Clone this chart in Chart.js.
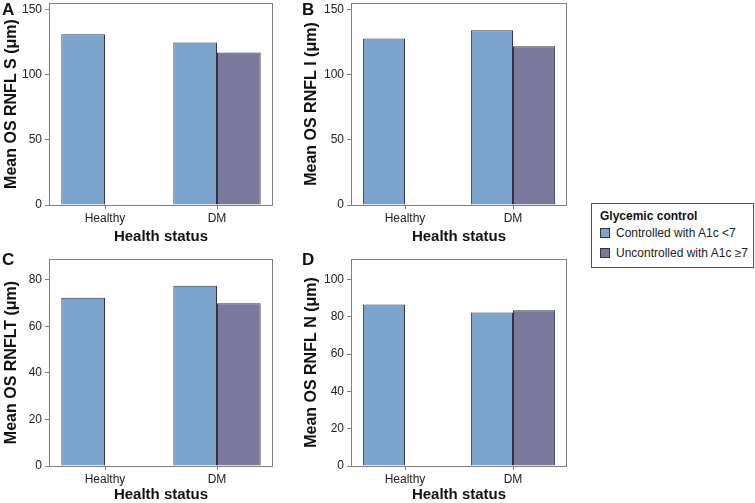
<!DOCTYPE html>
<html>
<head>
<meta charset="utf-8">
<script src="https://cdn.jsdelivr.net/npm/chart.js@4.4.1/dist/chart.umd.min.js"></script>
<style>
  html, body { margin: 0; padding: 0; background: #fff; overflow: hidden; width: 755px; height: 503px; }
  body { position: relative; font-family: "Liberation Sans", Arial, sans-serif; }
  canvas { position: absolute; }
  .letter { position: absolute; font-weight: bold; font-size: 17px; line-height: 17px; color: #111; }
  #legend { position: absolute; left: 591px; top: 203px; width: 161px; height: 63px; border: 1px solid #555; font-size: 12px; color: #222; }
  #legend .ttl { position: absolute; left: 8px; top: 5px; font-weight: bold; color: #111; }
  #legend .item { position: absolute; left: 8px; white-space: nowrap; }
  #legend .sw { display: inline-block; width: 8px; height: 8px; border: 1px solid #333; margin-right: 6px; vertical-align: -1px; }
</style>
</head>
<body>
<canvas id="cA" width="280" height="250" style="left:0;top:0"></canvas>
<canvas id="cB" width="275" height="250" style="left:300px;top:0"></canvas>
<canvas id="cC" width="280" height="256" style="left:0;top:250px"></canvas>
<canvas id="cD" width="275" height="256" style="left:300px;top:250px"></canvas>
<div class="letter" style="left:2px;top:1px">A</div>
<div class="letter" style="left:302px;top:1px">B</div>
<div class="letter" style="left:2px;top:251px">C</div>
<div class="letter" style="left:302px;top:251px">D</div>
<div id="legend"></div>
<script>
const categories = ["Healthy", "DM"];
const seriesNames = ["Controlled with A1c <7", "Uncontrolled with A1c \u22657"];
const seriesColors = ["#7ba3cc", "#7a799d"];

// values per panel: [controlled, uncontrolled] for Healthy, DM
const rnflS_controlled = [131, 124.6];
const rnflS_uncontrolled = [null, 117];
const rnflI_controlled = [127.7, 134];
const rnflI_uncontrolled = [null, 121.8];
const rnflT_controlled = [72.3, 77.5];
const rnflT_uncontrolled = [null, 70];
const rnflN_controlled = [86.6, 82.3];
const rnflN_uncontrolled = [null, 83.5];

const ticksS = [0, 50, 100, 150];
const ticksI = [0, 50, 100, 150];
const ticksT = [0, 20, 40, 60, 80];
const ticksN = [0, 20, 40, 60, 80, 100];

const FONT = "'Liberation Sans', Arial, sans-serif";

const framePlugin = {
  id: "frame",
  afterDraw(chart) {
    const a = chart.chartArea;
    const ctx = chart.ctx;
    ctx.save();
    ctx.strokeStyle = "#808080";
    ctx.lineWidth = 1;
    ctx.strokeRect(Math.round(a.left) + 0.5, Math.round(a.top) + 0.5,
      Math.round(a.right - a.left) - 1, Math.round(a.bottom - a.top));
    ctx.restore();
  }
};

function makePanel(id, yTitle, controlled, uncontrolled, tickVals, yMax, box) {
  const ctx = document.getElementById(id).getContext("2d");
  return new Chart(ctx, {
    type: "bar",
    data: {
      labels: categories,
      datasets: [
        { label: seriesNames[0], data: controlled, backgroundColor: seriesColors[0], borderColor: "#2e3444", borderWidth: 1 },
        { label: seriesNames[1], data: uncontrolled, backgroundColor: seriesColors[1], borderColor: "#2e3444", borderWidth: 1 }
      ]
    },
    options: {
      responsive: false,
      animation: false,
      events: [],
      categoryPercentage: 0.78,
      barPercentage: 1,
      layout: { padding: { left: 0, right: box.right, top: box.top, bottom: 0 } },
      plugins: { legend: { display: false }, tooltip: { enabled: false } },
      scales: {
        x: {
          grid: { display: true, drawOnChartArea: false, drawTicks: true, tickLength: 4, offset: false, color: "#808080" },
          border: { display: false },
          ticks: { font: { family: FONT, size: 12 }, color: "#222", padding: 2, maxRotation: 0 },
          title: { display: true, text: "Health status", font: { family: FONT, size: 15, weight: "bold" }, color: "#111", padding: { top: 0, bottom: box.titlePad } },
          afterFit(s) { s.height = box.xHeight; s.paddingLeft = 0; s.paddingRight = 0; }
        },
        y: {
          min: 0,
          max: yMax,
          grid: { display: true, drawOnChartArea: false, drawTicks: true, tickLength: 4, color: "#808080" },
          border: { display: false },
          ticks: { font: { family: FONT, size: 12 }, color: "#222", padding: 3 },
          afterBuildTicks(s) { s.ticks = tickVals.map(v => ({ value: v })); },
          title: { display: true, text: yTitle, font: { family: FONT, size: 16, weight: "bold" }, color: "#111", padding: { top: 2, bottom: 0 } },
          afterFit(s) { s.width = box.yWidth; s.paddingTop = 0; s.paddingBottom = 0; }
        }
      }
    },
    plugins: [framePlugin]
  });
}

makePanel("cA", "Mean OS RNFL S (\u03bcm)", rnflS_controlled, rnflS_uncontrolled, ticksS, 155,
  { right: 7, top: 3, xHeight: 45, yWidth: 49, titlePad: 4 });
makePanel("cB", "Mean OS RNFL I (\u03bcm)", rnflI_controlled, rnflI_uncontrolled, ticksI, 155,
  { right: 8, top: 3, xHeight: 45, yWidth: 51, titlePad: 4 });
makePanel("cC", "Mean OS RNFLT (\u03bcm)", rnflT_controlled, rnflT_uncontrolled, ticksT, 89,
  { right: 7, top: 9, xHeight: 40, yWidth: 49, titlePad: 2 });
makePanel("cD", "Mean OS RNFL N (\u03bcm)", rnflN_controlled, rnflN_uncontrolled, ticksN, 111,
  { right: 8, top: 9, xHeight: 40, yWidth: 51, titlePad: 2 });

// legend
const legend = document.getElementById("legend");
let html = '<div class="ttl">Glycemic control</div>';
seriesNames.forEach((name, i) => {
  html += '<div class="item" style="top:' + (22 + i * 20) + 'px"><span class="sw" style="background:' + seriesColors[i] + '"></span>' + name.replace("<", "&lt;") + '</div>';
});
legend.innerHTML = html;
</script>
</body>
</html>
